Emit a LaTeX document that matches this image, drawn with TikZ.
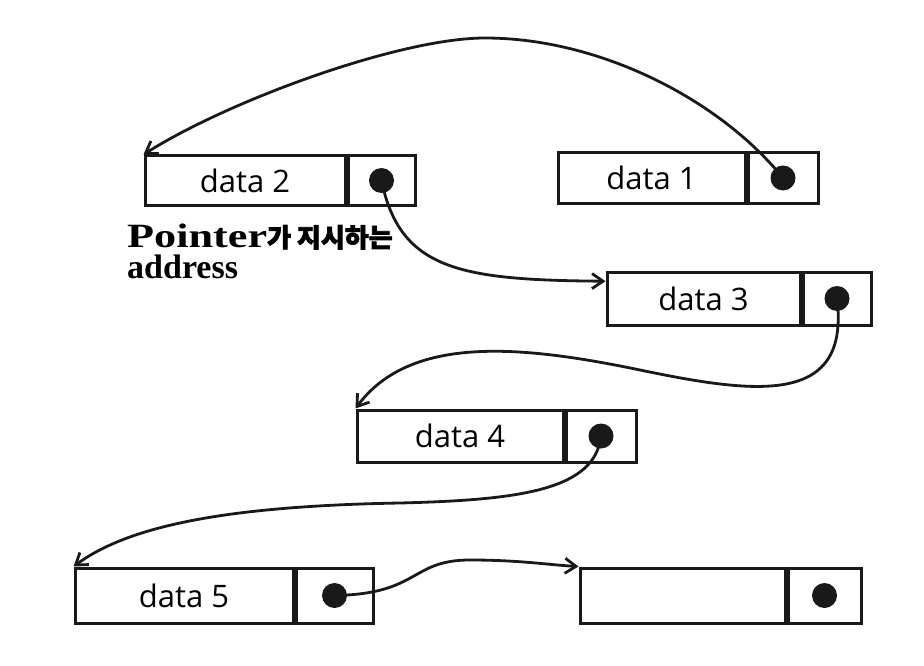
\documentclass[tikz,border=0pt]{standalone}
\usepackage{fontspec}
\usepackage{tikz}
\usetikzlibrary{positioning,arrows.meta}
\newfontfamily\datafont{Open Sans}
\newfontfamily\lblfont{Liberation Serif}
\newfontfamily\ptrfont[FakeStretch=1.3]{Liberation Serif}
\newfontfamily\krfont[FakeBold=2.5]{Noto Sans CJK KR}
\tikzstyle{databox} = [rectangle, draw=black!90, line width=3pt, minimum height=50pt, inner sep=0, text centered, font=\datafont\fontsize{31}{34}\selectfont]
\tikzstyle{ptrbox}  = [rectangle, draw=black!90, line width=3pt, minimum height=50pt, inner sep=0]
\tikzstyle{dot}     = [circle, fill=black!90, minimum size=25pt, inner sep=0]
\tikzstyle{arrow}   = [line width=2.8pt, -{Straight Barb[length=11pt,width=15pt]}, black!90]
\tikzstyle{lbl}     = [anchor=base west, inner sep=0, font=\bfseries\fontsize{34}{34}\selectfont]
\begin{document}
\begin{tikzpicture}[x=1pt, y=-1pt]
    \useasboundingbox (0,0) rectangle (924,666);
    % nodes
    \node (d2) [databox, minimum width=200pt, minimum height=49pt] at (245,180.5) {data 2};
    \node (p2) [ptrbox, minimum width=67pt, minimum height=49pt, right=0pt of d2] {};
    \node (dot2) [dot] at (p2) {};
    \node (d1) [databox, minimum width=187pt] at (651.5,178) {data 1};
    \node (p1) [ptrbox, minimum width=70pt, right=0pt of d1] {};
    \node (dot1) [dot] at (p1) {};
    \node (d3) [databox, minimum width=193pt, minimum height=53pt] at (703.5,298.5) {data 3};
    \node (p3) [ptrbox, minimum width=68pt, minimum height=53pt, right=0pt of d3] {};
    \node (dot3) [dot] at (p3) {};
    \node (d4) [databox, minimum width=206pt, minimum height=52pt] at (460,436) {data 4};
    \node (p4) [ptrbox, minimum width=70pt, minimum height=52pt, right=0pt of d4] {};
    \node (dot4) [dot] at (p4) {};
    \node (d5) [databox, minimum width=218pt, minimum height=55pt] at (184,595.5) {data 5};
    \node (p5) [ptrbox, minimum width=77pt, minimum height=55pt, right=0pt of d5] {};
    \node (dot5) [dot] at (p5) {};
    \node (d6) [databox, minimum width=205pt, minimum height=55pt] at (682.5,595.5) {};
    \node (p6) [ptrbox, minimum width=73pt, minimum height=55pt, right=0pt of d6] {};
    \node (dot6) [dot] at (p6) {};
    \node (ptrlbl) [lbl] at (127,247) {\ptrfont Pointer\krfont\fontsize{26}{30}\selectfont 가 지시하는};
    \node (addrlbl) [lbl] at (127,278) {\lblfont address};

    % pointers
    \draw [arrow] (dot1.center) .. controls (720,100) and (600,38) .. (485,38)
        .. controls (400,38) and (230,100) .. (d2.north west);
    \draw [arrow] (dot2.center) .. controls (400,270) and (460,280) .. (d3.170);
    \draw [arrow] (dot3.center) .. controls (850,405) and (760,395) .. (640,370)
        .. controls (520,345) and (410,335) .. (d4.north west);
    \draw [arrow] (dot4.center) .. controls (595,490) and (520,500) .. (400,503)
        .. controls (230,506) and (130,525) .. (d5.north west);
    \draw [arrow] (dot5.center) .. controls (420,594) and (410,560) .. (470,560)
        .. controls (520,560) and (550,565) .. (d6.north west);
\end{tikzpicture}
\end{document}
